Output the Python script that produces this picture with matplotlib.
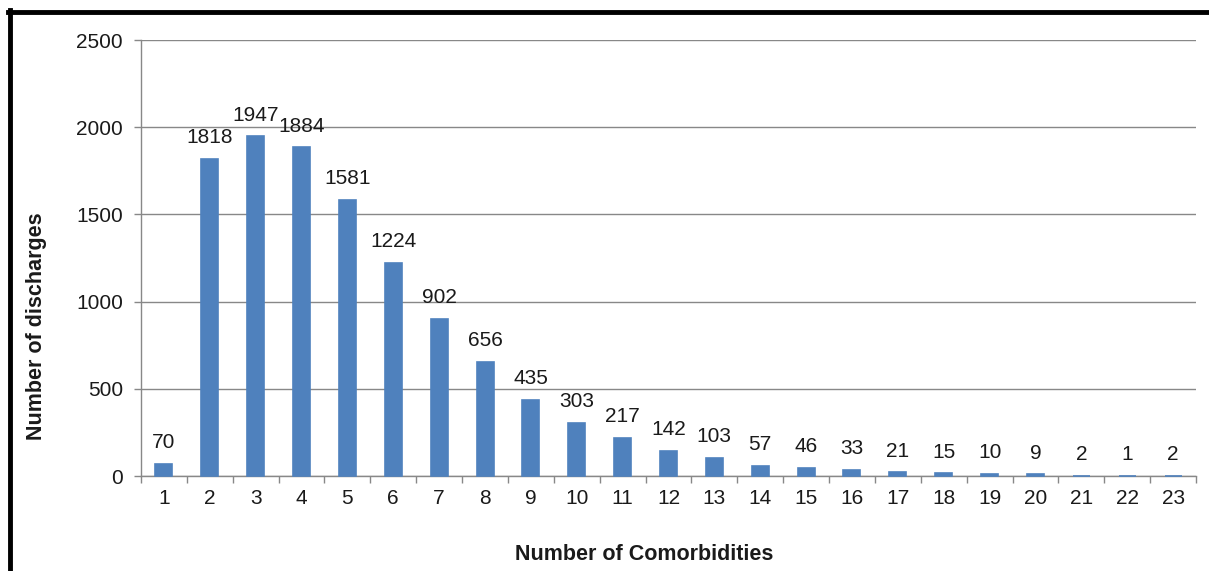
import numpy as np
import matplotlib.pyplot as plt
from matplotlib.lines import Line2D

plt.rcParams['font.family'] = ['Liberation Sans', 'DejaVu Sans']

# comorbidity counts and how many discharges had each
comorbidities = list(range(1, 24))
discharges = [70, 1818, 1947, 1884, 1581, 1224, 902, 656, 435, 303, 217, 142,
              103, 57, 46, 33, 21, 15, 10, 9, 2, 1, 2]
y_ticks = [0, 500, 1000, 1500, 2000, 2500]

bar_color = '#4F81BD'
grid_color = '#888888'
text_color = '#1a1a1a'

fig = plt.figure(figsize=(12.09, 5.71), dpi=100)
ax = fig.add_axes([141 / 1209, 1 - 476 / 571, (1196 - 141) / 1209, (476 - 40) / 571])

x = np.array(comorbidities)
# thin edge keeps the tiny bars (1-2 discharges) visible
bars = ax.bar(x, discharges, width=0.37, color=bar_color, edgecolor=bar_color,
              linewidth=1.2, zorder=5)
for b in bars:
    b.set_clip_on(False)

# value labels on top of each bar
for xi, v in zip(x, discharges):
    ax.annotate(str(v), (xi, v), xytext=(0, 8.5), textcoords='offset points',
                ha='center', va='bottom', fontsize=15, color=text_color)

ax.set_xlim(0.5, 23.5)
ax.set_ylim(0, 2500)
ax.set_yticks(y_ticks)
ax.set_xticks(x)
ax.set_xticklabels([str(c) for c in comorbidities])
# tick marks sit on the category boundaries
ax.set_xticks(np.arange(0.5, 24.0, 1.0), minor=True)
ax.tick_params(axis='x', which='major', length=0, pad=9, labelsize=15, colors=text_color)
ax.tick_params(axis='x', which='minor', length=5, width=1, color=grid_color)
ax.tick_params(axis='y', which='major', length=5, width=1, color=grid_color,
               pad=8, labelsize=15, labelcolor=text_color)

ax.yaxis.grid(True, color=grid_color, linewidth=1)
ax.set_axisbelow(True)
for side in ['top', 'right']:
    ax.spines[side].set_visible(False)
for side in ['left', 'bottom']:
    ax.spines[side].set_color(grid_color)
    ax.spines[side].set_linewidth(1)
    ax.spines[side].set_zorder(4)

fig.text(644 / 1209, 1 - 555 / 571, 'Number of Comorbidities', ha='center', va='center',
         fontsize=15.5, fontweight='bold', color=text_color)
fig.text(37 / 1209, 1 - 326 / 571, 'Number of discharges', ha='center', va='center',
         rotation=90, fontsize=15.5, fontweight='bold', color=text_color)

# frame around the chart (top and left edges show)
fig.add_artist(Line2D([10 / 1209, 10 / 1209], [0, 1 - 10 / 571], color='black',
                      linewidth=3.5, transform=fig.transFigure))
fig.add_artist(Line2D([8 / 1209, 1], [1 - 12 / 571, 1 - 12 / 571], color='black',
                      linewidth=3.5, transform=fig.transFigure))

fig.savefig('out.png', dpi=100)
